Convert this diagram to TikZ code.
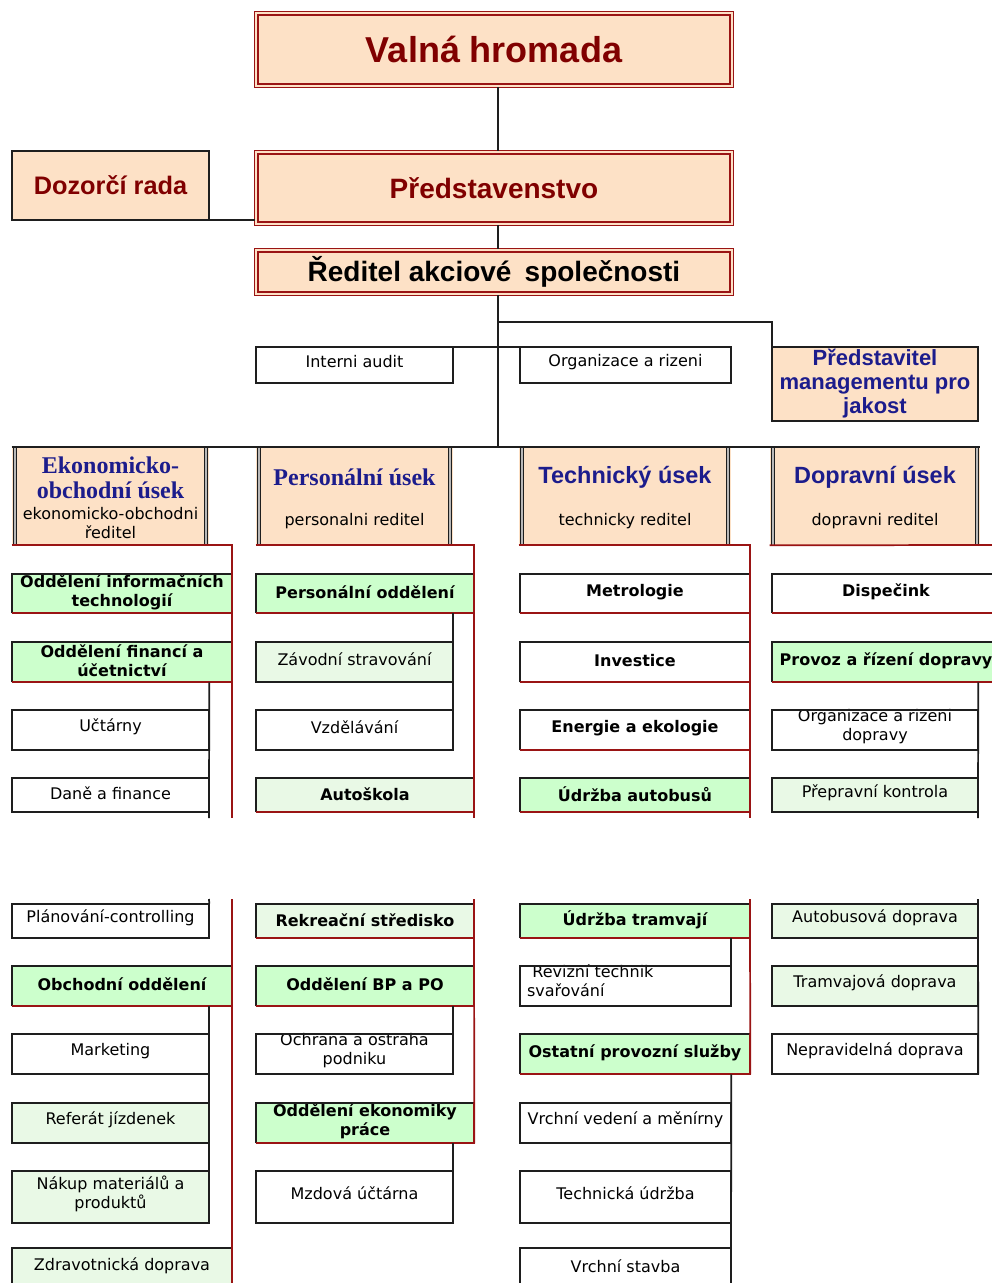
\documentclass[tikz,border=0pt]{standalone}
\usepackage{fontspec}
\setmainfont{Liberation Sans}
\newfontfamily\dvs{DejaVu Sans}
\newfontfamily\lser{Liberation Serif}
\usetikzlibrary{calc}
\definecolor{bred}{HTML}{9A1414}
\definecolor{tred}{HTML}{800000}
\definecolor{peach}{HTML}{FDE1C6}
\definecolor{lgreen}{HTML}{CCFFCC}
\definecolor{dgreen}{HTML}{E9F9E6}
\definecolor{navy}{HTML}{1C1C8C}
\definecolor{kline}{HTML}{1E1E1E}
\newcommand\ttlf[1]{\bfseries\fontsize{#1}{#1}\selectfont}
\tikzset{
  kl/.style={draw=kline, line width=1.3pt},
  rl/.style={draw=bred, line width=1.3pt},
  sub/.style={font=\dvs\fontsize{12}{14.25}\selectfont, text=black, align=center, inner sep=0pt},
  subb/.style={font=\dvs\bfseries\fontsize{12}{14.25}\selectfont, text=black, align=center, inner sep=0pt},
  hdser/.style={font=\lser\bfseries\fontsize{18}{18}\selectfont, text=navy, inner sep=0pt},
  hdsan/.style={font=\bfseries\fontsize{17.6}{18}\selectfont, text=navy, inner sep=0pt},
  smalltxt/.style={font=\dvs\fontsize{12}{12}\selectfont, text=black, inner sep=0pt},
  side/.style={draw=kline, line width=1pt, double=gray!55, double distance=1.3pt},
}
\newcommand\tb[7]{\node[#6, inner sep=0pt, minimum width={(#4-#2)*0.75pt}, minimum height={(#5-#3)*0.75pt}] (#1) at ({(#2+#4)/2},{(#3+#5)/2}) {#7};}
\newcommand\ob[9]{\tb{#1}{#2}{#3}{#4}{#5}{fill=#6}{}\node[#7] (#1-t) at ($(#1.center)+(0,#8)$) {#9};}
\begin{document}
\begin{tikzpicture}[x=0.75pt,y=-0.75pt]
\useasboundingbox (0,0) rectangle (992,1283);
\fill[white] (0,0) rectangle (992,1283);

% ---- top boxes
\tb{valna}{255}{12}{733}{87}{fill=peach, font=\ttlf{27}, text=tred}{Valná hromada}
\tb{pred}{255}{151}{733}{225}{fill=peach, font=\ttlf{21}, text=tred}{Představenstvo}
\tb{reditel}{255}{249}{733}{295}{fill=peach, font=\ttlf{21}, text=black}{Ředitel akciové\hspace{4pt} společnosti}
\tb{dozor}{12}{151}{209}{220}{fill=peach, font=\ttlf{19}, text=tred}{Dozorčí rada}
\ob{audit}{256}{347}{453}{383}{white}{sub}{-3}{Interni audit}
\ob{org}{520}{347}{731}{383}{white}{sub}{-3}{Organizace a rizeni}
\tb{jakost}{772}{347}{978}{421}{fill=peach, font=\bfseries\fontsize{16.5}{18}\selectfont, text=navy, align=center}{Představitel\\managementu pro\\jakost}

% ---- divisions
\tb{eko}{12}{447}{209}{545}{fill=peach}{}
\tb{pers}{256}{447}{453}{545}{fill=peach}{}
\tb{tech}{519}{447}{731}{545}{fill=peach}{}
\tb{dop}{770}{447}{980}{545}{fill=peach}{}
\node[hdser] (eko-t1) at (110.5,465) {Ekonomicko-};
\node[hdser] (eko-t2) at (110.5,490) {obchodní úsek};
\node[smalltxt] (eko-t3) at (110.5,514) {ekonomicko-obchodni};
\node[smalltxt] (eko-t4) at (110.5,532) {ředitel};
\node[hdser] (pers-t1) at (354.5,477) {Personální úsek};
\node[smalltxt] (pers-t2) at (354.5,521) {personalni reditel};
\node[hdsan] (tech-t1) at (625,477) {Technický úsek};
\node[smalltxt] (tech-t2) at (625,521) {technicky reditel};
\node[hdsan] (dop-t1) at (875,477) {Dopravní úsek};
\node[smalltxt] (dop-t2) at (875,521) {dopravni reditel};

% ---- column 1
\ob{it}{12}{574}{232}{613}{lgreen}{subb}{-1}{Oddělení informačních\\technologií}
\ob{fin}{12}{642}{232}{682}{lgreen}{subb}{-1.5}{Oddělení financí a\\účetnictví}
\ob{uct}{12}{710}{209}{750}{white}{sub}{-3}{Učtárny}
\ob{dane}{12}{778}{209}{812}{white}{sub}{-2}{Daně a finance}
\ob{plan}{12}{904}{209}{938}{white}{sub}{-3}{Plánování-controlling}
\ob{obch}{12}{966}{232}{1006}{lgreen}{subb}{-2}{Obchodní oddělení}
\ob{mark}{12}{1034}{209}{1074}{white}{sub}{-3}{Marketing}
\ob{ref}{12}{1103}{209}{1143}{dgreen}{sub}{-3}{Referát jízdenek}
\ob{nak}{12}{1171}{209}{1223}{dgreen}{sub}{-3.5}{Nákup materiálů a\\produktů}
\ob{zdrav}{12}{1248}{232}{1300}{dgreen}{sub}{-8}{Zdravotnická doprava}

% ---- column 2
\ob{pod}{256}{574}{474}{613}{lgreen}{subb}{-1.5}{Personální oddělení}
\ob{zav}{256}{642}{453}{682}{dgreen}{sub}{-3}{Závodní stravování}
\ob{vzd}{256}{710}{453}{750}{white}{sub}{-3}{Vzdělávání}
\ob{auto}{256}{778}{474}{812}{dgreen}{subb}{-1}{Autoškola}
\ob{rek}{256}{904}{474}{938}{dgreen}{subb}{-1}{Rekreační středisko}
\ob{bp}{256}{966}{474}{1006}{lgreen}{subb}{-2}{Oddělení BP a PO}
\ob{ochr}{256}{1034}{453}{1074}{white}{sub}{-3}{Ochrana a ostraha\\podniku}
\ob{ekp}{256}{1103}{474}{1143}{lgreen}{subb}{-2}{Oddělení ekonomiky\\práce}
\ob{mzd}{256}{1171}{453}{1223}{white}{sub}{-4}{Mzdová účtárna}

% ---- column 3
\ob{met}{520}{574}{750}{613}{white}{subb}{-1.5}{Metrologie}
\ob{inv}{520}{642}{750}{682}{white}{subb}{-1.5}{Investice}
\ob{ene}{520}{710}{750}{750}{white}{subb}{-1.5}{Energie a ekologie}
\ob{uda}{520}{778}{750}{812}{lgreen}{subb}{-1}{Údržba autobusů}
\ob{udt}{520}{904}{750}{938}{lgreen}{subb}{-1}{Údržba tramvají}
\tb{rev}{520}{966}{731}{1006}{fill=white}{}
\node[sub, align=left, anchor=north west] (rev-t) at ($(rev.north west)+(7,-1)$) {\hspace{4pt}Revizní technik\\svařování};
\ob{ost}{520}{1034}{750}{1074}{lgreen}{subb}{-1}{Ostatní provozní služby}
\ob{vrv}{520}{1103}{731}{1143}{white}{sub}{-3}{Vrchní vedení a měnírny}
\ob{techu}{520}{1171}{731}{1223}{white}{sub}{-4}{Technická údržba}
\ob{vrs}{520}{1248}{731}{1300}{white}{sub}{-8}{Vrchní stavba}

% ---- column 4
\ob{disp}{772}{574}{1000}{613}{white}{subb}{-1.5}{Dispečink}
\ob{prov}{772}{642}{1000}{682}{lgreen}{subb}{-1.5}{Provoz a řízení dopravy}
\ob{orgd}{772}{710}{978}{750}{white}{sub}{-3}{Organizace a rizeni\\dopravy}
\ob{prep}{772}{778}{978}{812}{dgreen}{sub}{-2}{Přepravní kontrola}
\ob{autob}{772}{904}{978}{938}{dgreen}{sub}{-3}{Autobusová doprava}
\ob{tram}{772}{966}{978}{1006}{dgreen}{sub}{-3}{Tramvajová doprava}
\ob{nepr}{772}{1034}{978}{1074}{white}{sub}{-3}{Nepravidelná doprava}

% ---- borders
\foreach \n in {valna,pred,reditel}{
  \draw[bred, line width=0.9pt] (\n.south west) rectangle (\n.north east);
  \draw[bred, line width=1.5pt] ([shift={(2.6pt,2.6pt)}]\n.south west) rectangle ([shift={(-2.6pt,-2.6pt)}]\n.north east);
}
\foreach \n in {dozor,jakost,audit,org,uct,dane,plan,mark,ref,nak,zav,vzd,ochr,mzd,rev,vrv,techu,vrs,orgd,prep,autob,tram,nepr}{
  \draw[kl] (\n.south west) rectangle (\n.north east);
}
\foreach \n in {it,fin,obch,zdrav,pod,auto,rek,bp,ekp,met,inv,ene,uda,udt,ost,disp,prov}{
  \draw[kl] (\n.south west) -- (\n.north west) -- (\n.north east);
  \draw[rl] (\n.south west) -- (\n.south east) -- (\n.north east);
}
\foreach \n in {eko,pers,tech,dop}{
  \draw[side] ([xshift=2.25pt]\n.north west) -- ([xshift=2.25pt]\n.south west);
  \draw[side] ([xshift=-2.25pt]\n.north east) -- ([xshift=-2.25pt]\n.south east);
}

% ---- connectors
\coordinate (spine) at (498,0);
\coordinate (br) at (498,322);
\draw[kl] (valna.south -| spine) -- (pred.north -| spine);
\draw[kl] (pred.south -| spine) -- (reditel.north -| spine);
\draw[kl] (reditel.south -| spine) -- (eko.north -| spine);
\draw[kl] (br) -| (jakost.north west);
\draw[kl] (audit.north east) -- (org.north west);
\draw[kl] (eko.north west) -- (dop.north east);
\draw[kl] (dozor.south east) -- (dozor.south east -| pred.west);

\coordinate (c1a) at (232,818); \coordinate (c1b) at (232,899); \coordinate (c1c) at (232,1300);
\coordinate (c2a) at (474,818); \coordinate (c2b) at (474,899);
\coordinate (c3a) at (750,818); \coordinate (c3b) at (750,899);
\coordinate (c4) at (1000,545);
\draw[rl] (eko.south west) -| (c1a);
\draw[rl] (c1b) -- (c1c);
\draw[rl] (pers.south west) -| (c2a);
\draw[rl] (c2b) -- (ekp.south east);
\draw[rl] (tech.south west) -| (c3a);
\draw[rl] (c3b) -- (ost.south east);
\draw[rl] (dop.south west) -- (c4);

\coordinate (k1a) at (209,818); \coordinate (k1b) at (209,899);
\coordinate (k3) at (731,1300);
\coordinate (k4a) at (978,818); \coordinate (k4b) at (978,899);
\draw[kl] (fin.south -| uct.east) -- (k1a);
\draw[kl] (k1b) -- (plan.north east);
\draw[kl] (obch.south -| nak.east) -- (nak.north east);
\draw[kl] (pod.south -| vzd.east) -- (vzd.north east);
\draw[kl] (bp.south -| ochr.east) -- (ochr.north east);
\draw[kl] (ekp.south -| mzd.east) -- (mzd.north east);
\draw[kl] (udt.south -| rev.east) -- (rev.north east);
\draw[kl] (ost.south -| vrs.east) -- (k3);
\draw[kl] (prov.south -| orgd.east) -- (k4a);
\draw[kl] (k4b) -- (nepr.south east);
\end{tikzpicture}
\end{document}
